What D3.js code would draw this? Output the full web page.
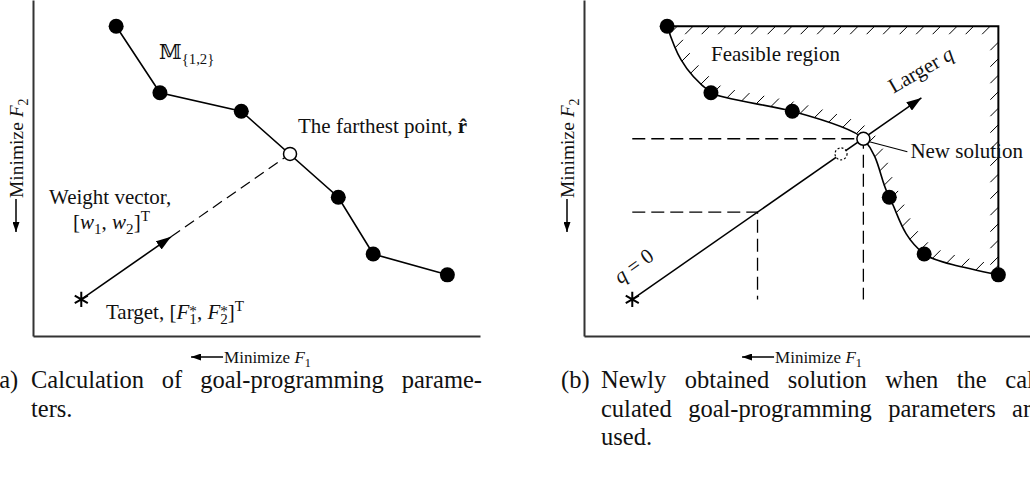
<!DOCTYPE html>
<html>
<head>
<meta charset="utf-8">
<script src="https://cdn.jsdelivr.net/npm/d3@7"></script>
<style>
  body { margin: 0; background: #fff; }
  svg { display: block; }
  text { font-family: "Liberation Serif", "Times New Roman", "DejaVu Serif", serif; fill: #111; }
</style>
</head>
<body>
<svg id="fig" width="1030" height="481"></svg>
<script>
// Non-dominated points of the set M{1,2}, in plot units (F1 right, F2 up)
const paretoF1 = [18.6, 28.4, 46.6, 68.3, 76.1, 92.7];
const paretoF2 = [92.2, 72.4, 66.9, 41.3, 24.4, 18.2];
// Target point [F1*, F2*] and the farthest point r-hat
const targetPoint = [10.8, 10.9];
const farthestPoint = [57.5, 54.2];
// Solution obtained with the new goal-programming parameters
const newSolution = [62.5, 58.7];
// Positions along the target -> r-hat ray (fractions of that segment)
const weightArrowEnd = 0.43;
const qZeroGuideAt = 0.6;
const largerQArrowEnd = 1.385;
// Caption lines
const captionA = ["Calculation of goal-programming parame-", "ters."];
const captionB = ["Newly obtained solution when the cal-", "culated goal-programming parameters are", "used."];

const svg = d3.select("#fig");
const plotTop = 0, plotBottom = 336;
const capSize = 24.5, capBase = 388, capLead = 28.5;

const defs = svg.append("defs");
function arrowMarker(id, len, wid) {
  defs.append("marker")
    .attr("id", id).attr("markerUnits", "userSpaceOnUse")
    .attr("viewBox", `0 ${-wid / 2} ${len} ${wid}`)
    .attr("refX", len).attr("refY", 0)
    .attr("markerWidth", len).attr("markerHeight", wid)
    .attr("orient", "auto")
    .append("path").attr("d", `M0,${-wid / 2}L${len},0L0,${wid / 2}Z`).attr("fill", "#000");
}
arrowMarker("head", 15, 10);
arrowMarker("small", 10, 7);

// Text with italic / sub / superscript runs
function richText(g, x, y, size, parts) {
  const t = g.append("text").attr("x", x).attr("y", y).style("font-size", size + "px");
  let cur = 0;
  parts.forEach(p => {
    let shift = 0;
    if (p.sub) shift = size * 0.25;
    if (p.sup) shift = p.shift !== undefined ? p.shift : -size * 0.4;
    const ts = t.append("tspan").text(p.t);
    if (shift - cur !== 0) ts.attr("dy", shift - cur);
    if (p.dx) ts.attr("dx", p.dx);
    if (p.sub || p.sup) ts.style("font-size", (size * 0.72) + "px");
    if (p.i) ts.style("font-style", "italic");
    if (p.b) ts.style("font-weight", "bold");
    cur = shift;
  });
  return t;
}

function axisLabels(g, p) {
  // horizontal label with left-pointing arrow
  const midX = (p.left + p.right) / 2;
  const xl = richText(g, 0, 363, 17, [{ t: "Minimize " }, { t: "F", i: true }, { t: "1", sub: true }]);
  const w = xl.node().getComputedTextLength();
  const sx = midX - w / 2 + 11;
  xl.attr("x", sx);
  g.append("line").attr("x1", sx - 1).attr("y1", 357).attr("x2", sx - 33).attr("y2", 357)
    .attr("stroke", "#000").attr("stroke-width", 1.5).attr("marker-end", "url(#small)");
  // vertical label with down-pointing arrow
  const vg = g.append("g").attr("transform", `translate(${p.left - 10},199) rotate(-90)`);
  richText(vg, 1, 0, 19.5, [{ t: "Minimize " }, { t: "F", i: true }, { t: "2", sub: true }]);
  vg.append("line").attr("x1", 0).attr("y1", -7).attr("x2", -33).attr("y2", -7)
    .attr("stroke", "#000").attr("stroke-width", 1.5).attr("marker-end", "url(#small)");
}

function drawAxes(g, x, y) {
  g.append("g").attr("transform", `translate(0,${plotBottom})`)
    .call(d3.axisBottom(x).tickValues([]).tickSizeOuter(0))
    .call(s => s.select(".domain").attr("stroke", "#333").attr("stroke-width", 2));
  g.append("g").attr("transform", `translate(${x.range()[0]},0)`)
    .call(d3.axisLeft(y).tickValues([]).tickSizeOuter(0))
    .call(s => s.select(".domain").attr("stroke", "#333").attr("stroke-width", 2));
}

// One caption line; optionally stretched between x0 and x1
function justified(g, x0, x1, y, size, str, justify) {
  const words = str.split(" ");
  const t = g.append("text").attr("y", y).style("font-size", size + "px");
  const widths = words.map(wd => {
    const tmp = g.append("text").style("font-size", size + "px").text(wd);
    const w = tmp.node().getComputedTextLength();
    tmp.remove();
    return w;
  });
  const total = d3.sum(widths);
  const gap = justify && words.length > 1 ? (x1 - x0 - total) / (words.length - 1) : size * 0.25;
  let cx = x0;
  words.forEach((wd, i) => {
    t.append("tspan").attr("x", cx).text(wd);
    cx += widths[i] + gap;
  });
}

const pts = d3.zip(paretoF1, paretoF2);
const along = (f) => [targetPoint[0] + f * (farthestPoint[0] - targetPoint[0]),
                      targetPoint[1] + f * (farthestPoint[1] - targetPoint[1])];

function asterisk(g, cx, cy) {
  g.append("path").attr("transform", `translate(${cx},${cy})`)
    .attr("d", d3.symbol(d3.symbolAsterisk, 160)())
    .attr("stroke", "#000").attr("stroke-width", 2).attr("fill", "none");
}

// ---------------- Panel (a) ----------------
{
  const p = { left: 33, right: 480 };
  const x = d3.scaleLinear().domain([0, 100]).range([p.left, p.right]);
  const y = d3.scaleLinear().domain([0, 100]).range([plotBottom, plotTop]);
  const g = svg.append("g");
  drawAxes(g, x, y);
  axisLabels(g, p);

  const line = d3.line().x(d => x(d[0])).y(d => y(d[1]));
  g.append("path").attr("d", line(pts)).attr("fill", "none").attr("stroke", "#000").attr("stroke-width", 1.6);

  // weight vector: solid arrow, then dashed up to r-hat
  const wEnd = along(weightArrowEnd);
  g.append("line").attr("x1", x(wEnd[0])).attr("y1", y(wEnd[1]))
    .attr("x2", x(farthestPoint[0])).attr("y2", y(farthestPoint[1]))
    .attr("stroke", "#000").attr("stroke-width", 1.2).attr("stroke-dasharray", "11,6");
  g.append("line").attr("x1", x(targetPoint[0])).attr("y1", y(targetPoint[1]))
    .attr("x2", x(wEnd[0])).attr("y2", y(wEnd[1]))
    .attr("stroke", "#000").attr("stroke-width", 1.6).attr("marker-end", "url(#head)");

  g.selectAll(".pt").data(pts).join("circle").attr("class", "pt")
    .attr("cx", d => x(d[0])).attr("cy", d => y(d[1])).attr("r", 7.5).attr("fill", "#000");
  g.append("circle").attr("cx", x(farthestPoint[0])).attr("cy", y(farthestPoint[1])).attr("r", 6.5)
    .attr("fill", "#fff").attr("stroke", "#000").attr("stroke-width", 1.5);
  asterisk(g, x(targetPoint[0]), y(targetPoint[1]));

  richText(g, 159, 59, 20.5, [{ t: "\u{1D544}" }, { t: "{1,2}", sub: true }]);
  richText(g, 298, 133, 21, [{ t: "The farthest point, " }, { t: "r\u0302", b: true }]);
  richText(g, 49, 204, 21, [{ t: "Weight vector," }]);
  richText(g, 73, 229, 21, [{ t: "[" }, { t: "w", i: true }, { t: "1", sub: true }, { t: ", " },
    { t: "w", i: true }, { t: "2", sub: true }, { t: "]" }, { t: "T", sup: true }]);
  richText(g, 106, 319, 21, [{ t: "Target, [" }, { t: "F", i: true }, { t: "*", sup: true, shift: -3 },
    { t: "1", sub: true, dx: -7.5 }, { t: ", " }, { t: "F", i: true }, { t: "*", sup: true, shift: -3 },
    { t: "2", sub: true, dx: -7.5 }, { t: "]" }, { t: "T", sup: true }]);

  justified(g, -9, 0, capBase, capSize, "(a)", false);
  justified(g, 31, 482, capBase, capSize, captionA[0], true);
  justified(g, 31, 482, capBase + capLead, capSize, captionA[1], false);
}

// ---------------- Panel (b) ----------------
{
  const p = { left: 584, right: 1031 };
  const x = d3.scaleLinear().domain([0, 100]).range([p.left, p.right]);
  const y = d3.scaleLinear().domain([0, 100]).range([plotBottom, plotTop]);
  const g = svg.append("g");
  drawAxes(g, x, y);
  axisLabels(g, p);

  // feasible-region boundary: Pareto front plus the box edges, hatched on the inside
  const frontPts = pts.concat([newSolution]).sort((a, b) => a[0] - b[0]);
  const curve = d3.line().x(d => x(d[0])).y(d => y(d[1])).curve(d3.curveMonotoneY);
  const first = pts[0], last = pts[pts.length - 1];
  const cornerX = x(last[0]), cornerY = y(first[1]);

  const hatch = g.append("g").attr("stroke", "#000").attr("stroke-width", 1);
  const front = g.append("path").attr("d", curve(frontPts)).attr("fill", "none")
    .attr("stroke", "#000").attr("stroke-width", 1.6);
  const fn = front.node(), L = fn.getTotalLength();
  for (let s = 8; s < L - 6; s += 15) {
    const q = fn.getPointAtLength(s);
    hatch.append("line").attr("x1", q.x).attr("y1", q.y).attr("x2", q.x + 8).attr("y2", q.y - 8);
  }
  for (let hx = x(first[0]) + 26; hx <= cornerX; hx += 16.5) {
    hatch.append("line").attr("x1", hx).attr("y1", cornerY).attr("x2", hx - 8).attr("y2", cornerY + 8);
  }
  for (let hy = cornerY + 16; hy < y(last[1]) - 6; hy += 16.5) {
    hatch.append("line").attr("x1", cornerX).attr("y1", hy).attr("x2", cornerX - 8).attr("y2", hy + 8);
  }
  g.append("path")
    .attr("d", `M${x(first[0])},${cornerY}H${cornerX}V${y(last[1])}`)
    .attr("fill", "none").attr("stroke", "#000").attr("stroke-width", 2);

  // dashed projection guides
  const qz = along(qZeroGuideAt);
  const guides = [
    [[targetPoint[0], newSolution[1]], newSolution, [newSolution[0], targetPoint[1]]],
    [[targetPoint[0], qz[1]], qz, [qz[0], targetPoint[1]]]
  ];
  g.selectAll(".guide").data(guides).join("path").attr("class", "guide")
    .attr("d", d3.line().x(d => x(d[0])).y(d => y(d[1])))
    .attr("fill", "none").attr("stroke", "#000").attr("stroke-width", 1.3).attr("stroke-dasharray", "13,6");

  // ray from the target through r-hat, arrow towards larger q
  const qEnd = along(largerQArrowEnd);
  g.append("line").attr("x1", x(targetPoint[0])).attr("y1", y(targetPoint[1]))
    .attr("x2", x(qEnd[0])).attr("y2", y(qEnd[1]))
    .attr("stroke", "#000").attr("stroke-width", 1.5).attr("marker-end", "url(#head)");

  g.selectAll(".pt").data(pts).join("circle").attr("class", "pt")
    .attr("cx", d => x(d[0])).attr("cy", d => y(d[1])).attr("r", 7.5).attr("fill", "#000");
  g.append("circle").attr("cx", x(farthestPoint[0])).attr("cy", y(farthestPoint[1])).attr("r", 6)
    .attr("fill", "#fff").attr("stroke", "#000").attr("stroke-width", 1.2).attr("stroke-dasharray", "2,2");
  const nx = x(newSolution[0]), ny = y(newSolution[1]);
  g.append("line").attr("x1", nx + 6).attr("y1", ny + 3).attr("x2", nx + 44).attr("y2", ny + 13)
    .attr("stroke", "#000").attr("stroke-width", 1.1);
  g.append("circle").attr("cx", nx).attr("cy", ny).attr("r", 6.5)
    .attr("fill", "#fff").attr("stroke", "#000").attr("stroke-width", 1.5);
  asterisk(g, x(targetPoint[0]), y(targetPoint[1]));

  richText(g, 711, 61, 21, [{ t: "Feasible region" }]);
  richText(g, nx + 47, ny + 19, 21, [{ t: "New solution" }]);
  const lq = g.append("g").attr("transform", `translate(${nx + 30},${ny - 45}) rotate(-30)`);
  richText(lq, 0, 0, 21, [{ t: "Larger " }, { t: "q", i: true }]);
  const tq = g.append("g").attr("transform", `translate(${x(targetPoint[0]) - 12},${y(targetPoint[1]) - 15}) rotate(-36)`);
  richText(tq, 0, 0, 21, [{ t: "q", i: true }, { t: " = 0" }]);

  justified(g, 561, 0, capBase, capSize, "(b)", false);
  justified(g, 601, 1042, capBase, capSize, captionB[0], true);
  justified(g, 601, 1042, capBase + capLead, capSize, captionB[1], true);
  justified(g, 601, 1042, capBase + 2 * capLead, capSize, captionB[2], false);
}
</script>
</body>
</html>
